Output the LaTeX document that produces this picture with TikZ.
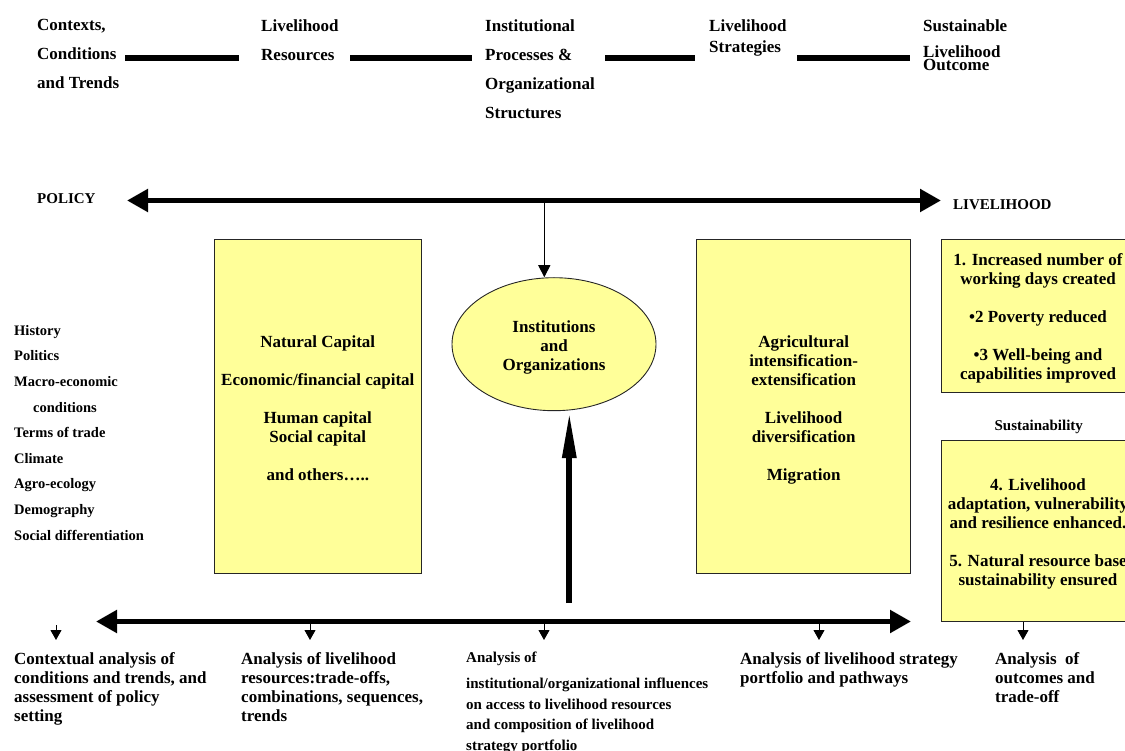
\documentclass[tikz,border=0pt]{standalone}
\usepackage{fontspec}
\setmainfont{Liberation Serif}
\usetikzlibrary{arrows.meta,shapes.geometric}
\definecolor{boxyellow}{HTML}{FFFF99}
\newcommand{\topstrut}[1]{\rule{0pt}{#1}}
\begin{document}
\begin{tikzpicture}[x=1pt,y=-1pt,
  toplbl/.style={inner sep=0, anchor=north west, align=left, font=\bfseries\fontsize{17}{29}\selectfont},
  midlbl/.style={inner sep=0, anchor=north west, align=left, font=\bfseries\fontsize{17}{19}\selectfont},
  smlbl/.style={inner sep=0, anchor=base west, font=\bfseries\fontsize{15}{18}\selectfont},
  ybox/.style={draw=black!85, line width=0.9pt, fill=boxyellow, align=center, inner sep=0,
    font=\bfseries\fontsize{17}{19}\selectfont},
  bar/.style={line width=5.5pt},
  bigarrow/.style={line width=5.5pt, {Triangle[length=21pt,width=22pt]}-{Triangle[length=21pt,width=22pt]}},
  smallarrow/.style={line width=1pt, -{Triangle[length=10pt,width=11pt]}},
  thinarrow/.style={line width=1pt, -{Triangle[length=12pt,width=12pt]}},
  thickarrow/.style={line width=6pt, -{Triangle[length=47pt,width=13pt]}}
]
\useasboundingbox (0,0) rectangle (1125,751);
\clip (0,0) rectangle (1125,751);

% ---- top row ----
\node[toplbl] (ctx) at (37,19.4) {Contexts,\\Conditions\\and Trends};
\node[toplbl] (res) at (261,19.4) {Livelihood\\Resources};
\node[toplbl] (ipo) at (485,19.4) {Institutional\\Processes \&\\Organizational\\Structures};
\node[toplbl, font=\bfseries\fontsize{17}{21}\selectfont] (str) at (709,19.4) {Livelihood\\Strategies};
\node[toplbl, font=\bfseries\fontsize{17}{26}\selectfont] (out) at (923,19.4) {Sustainable\\Livelihood\\[-13pt]Outcome};

\coordinate (b1a) at (125,58); \coordinate (b1b) at (239,58);
\coordinate (b2a) at (350,58); \coordinate (b2b) at (472,58);
\coordinate (b3a) at (605,58); \coordinate (b3b) at (695,58);
\coordinate (b4a) at (797,58); \coordinate (b4b) at (910,58);
\draw[bar] (b1a) -- (b1b);
\draw[bar] (b2a) -- (b2b);
\draw[bar] (b3a) -- (b3b);
\draw[bar] (b4a) -- (b4b);

% ---- policy / livelihood arrow ----
\node[smlbl] (policy) at (37,203.3) {POLICY};
\node[smlbl] (livelihood) at (953,210) {LIVELIHOOD};
\coordinate (pl) at (127,200.5);
\coordinate (pr) at (941,200.5);
\draw[bigarrow] (pl) -- (pr);

% ---- context list ----
\node[inner sep=0, anchor=north west, align=left, font=\bfseries\fontsize{14.5}{25.6}\selectfont] (ctxlist) at (14,325.1)
 {History\\Politics\\Macro-economic\\\hspace*{19pt}conditions\\Terms of trade\\Climate\\Agro-ecology\\Demography\\Social differentiation};

% ---- boxes ----
\node[ybox, minimum width=207.5pt, minimum height=334pt] (resbox) at (317.8,406.2)
 {\topstrut{16pt}Natural Capital\\[19pt]Economic/financial capital\\[19pt]Human capital\\Social capital\\[19pt]and others\dots..};
\node[ybox, minimum width=214pt, minimum height=334pt] (stratbox) at (803.7,406.2)
 {\topstrut{19.5pt}Agricultural\\intensification-\\extensification\\[19pt]Livelihood\\diversification\\[19pt]Migration};
\node[ybox, ellipse, minimum width=204pt, minimum height=133pt] (inst) at (554,344.2)
 {\topstrut{17.5pt}Institutions\\and\\Organizations};
\node[ybox, minimum width=194pt, minimum height=153pt] (out1) at (1038,315.6)
 {\topstrut{17.5pt}1. Increased number of\\working days created\\[19pt]\textbullet 2 Poverty reduced\\[19pt]\textbullet 3 Well-being and\\capabilities improved};
\node[inner sep=0, anchor=base, font=\bfseries\fontsize{15}{18}\selectfont] (sust) at (1038.8,430) {Sustainability};
\node[ybox, minimum width=194pt, minimum height=181.7pt] (out2) at (1038,530.8)
 {\topstrut{17.5pt}4. Livelihood\\adaptation, vulnerability\\and resilience enhanced.\\[19pt]5. Natural resource base\\sustainability ensured};

% ---- vertical arrows to institutions ----
\coordinate (pa) at (544.3,200.5);
\draw[thinarrow] (pa) -- (pa |- inst.north);
\coordinate (tb) at (569.3,603);
\draw[thickarrow] (tb) -- (569.3,411);

% ---- bottom arrow ----
\coordinate (ql) at (96,621.5);
\coordinate (qr) at (911,621.5);
\draw[bigarrow] (ql) -- (qr);

\coordinate (a1s) at (56,625);  \coordinate (a1e) at (56,640);
\coordinate (a2s) at (310,621.5); \coordinate (a2e) at (310,640);
\coordinate (a3s) at (544,621.5); \coordinate (a3e) at (544,640);
\coordinate (a4s) at (819,621.5); \coordinate (a4e) at (819,640);
\draw[smallarrow] (a1s) -- (a1e);
\draw[smallarrow] (a2s) -- (a2e);
\draw[smallarrow] (a3s) -- (a3e);
\draw[smallarrow] (a4s) -- (a4e);
\draw[smallarrow] (out2.south -| 1023,0) -- (1023,640);

% ---- bottom labels ----
\node[midlbl] (an1) at (14,651.9) {Contextual analysis of\\conditions and trends, and\\assessment of policy\\setting};
\node[midlbl] (an2) at (241,651.9) {Analysis of livelihood\\resources:trade-offs,\\combinations, sequences,\\trends};
\node[inner sep=0, anchor=north west, align=left, font=\bfseries\fontsize{15}{20.7}\selectfont] (an3) at (466,651.8)
 {Analysis of\\[5.3pt]institutional/organizational influences\\on access to livelihood resources\\and composition of livelihood\\strategy portfolio};
\node[midlbl] (an4) at (740,651.9) {Analysis of livelihood strategy\\portfolio and pathways};
\node[midlbl] (an5) at (995,651.9) {Analysis\ \ of\\outcomes and\\trade-off};
\end{tikzpicture}
\end{document}
